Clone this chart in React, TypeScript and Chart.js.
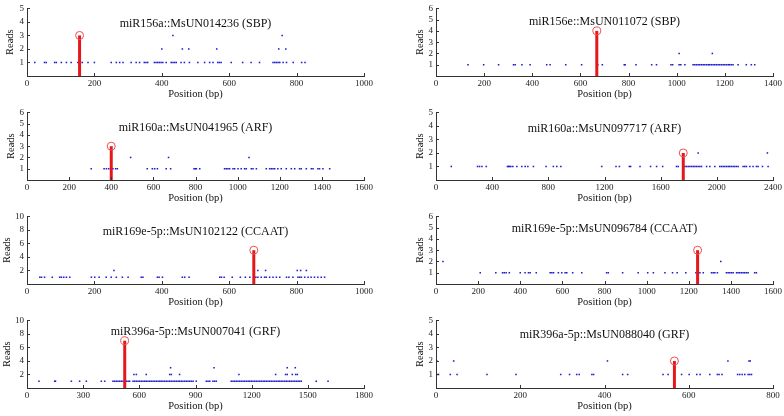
import React, { useEffect, useRef } from 'react';
import { Chart, registerables } from 'chart.js';
Chart.register(...registerables);

// ---------- Panel 1: miR156a::MsUN014236 (SBP) ----------
const p1Title = 'miR156a::MsUN014236 (SBP)';
const p1Reads1 = [23, 52, 57, 82, 87, 102, 117, 131, 151, 156, 164, 181, 200, 250, 265, 275, 285, 309, 324, 334, 348, 353, 358, 378, 383, 388, 393, 398, 403, 413, 428, 433, 438, 443, 457, 467, 482, 507, 527, 542, 552, 566, 571, 576, 606, 640, 665, 690, 730, 735, 740, 745, 750, 760, 770, 790, 815, 825];
const p1Reads2 = [400, 461, 480, 563, 747, 768];
const p1Reads3 = [433, 757];
const p1Cleave = [156, 3];
const p1XTicks = [0, 1000, 200];
const p1YTicks = [0, 5, 1];

// ---------- Panel 2: miR156e::MsUN011072 (SBP) ----------
const p2Title = 'miR156e::MsUN011072 (SBP)';
const p2Reads1 = [133, 198, 260, 322, 329, 357, 391, 460, 474, 539, 605, 672, 691, 782, 786, 831, 896, 916, 976, 983, 1010, 1017, 1034, 1068, 1075, 1082, 1089, 1096, 1103, 1110, 1117, 1124, 1131, 1137, 1144, 1151, 1158, 1165, 1172, 1179, 1186, 1193, 1200, 1207, 1214, 1220, 1227, 1234, 1255, 1289, 1310, 1324];
const p2Reads2 = [1010, 1148];
const p2Reads3: number[] = [];
const p2Cleave = [668, 4];
const p2XTicks = [0, 1400, 200];
const p2YTicks = [0, 6, 1];

// ---------- Panel 3: miR160a::MsUN041965 (ARF) ----------
const p3Title = 'miR160a::MsUN041965 (ARF)';
const p3Reads1 = [305, 366, 377, 388, 408, 421, 429, 571, 595, 606, 619, 661, 682, 793, 799, 804, 820, 938, 946, 954, 962, 978, 986, 1002, 1017, 1033, 1041, 1065, 1073, 1089, 1136, 1152, 1160, 1168, 1176, 1191, 1207, 1231, 1255, 1271, 1294, 1302, 1326, 1350, 1358, 1381, 1389, 1405, 1437];
const p3Reads2 = [492, 672, 1054];
const p3Reads3: number[] = [];
const p3Cleave = [400, 3];
const p3XTicks = [0, 1600, 200];
const p3YTicks = [0, 6, 1];

// ---------- Panel 4: miR160a::MsUN097717 (ARF) ----------
const p4Title = 'miR160a::MsUN097717 (ARF)';
const p4Reads1 = [109, 296, 310, 327, 358, 509, 517, 524, 533, 547, 576, 611, 635, 654, 694, 784, 836, 860, 889, 1180, 1282, 1306, 1377, 1386, 1453, 1528, 1571, 1614, 1713, 1725, 1773, 1784, 1796, 1808, 1820, 1832, 1844, 1855, 1867, 1879, 1891, 1927, 1950, 1986, 2021, 2033, 2045, 2057, 2069, 2081, 2092, 2104, 2116, 2128, 2140, 2152, 2187, 2199, 2211, 2235, 2258, 2282, 2294, 2325, 2365];
const p4Reads2 = [1867, 2360];
const p4Reads3: number[] = [];
const p4Cleave = [1761, 2];
const p4XTicks = [0, 2400, 400];
const p4YTicks = [0, 5, 1];

// ---------- Panel 5: miR169e-5p::MsUN102122 (CCAAT) ----------
const p5Title = 'miR169e-5p::MsUN102122 (CCAAT)';
const p5Reads1 = [38, 43, 52, 75, 97, 102, 109, 117, 127, 191, 201, 214, 235, 250, 265, 283, 300, 339, 344, 387, 392, 402, 461, 468, 481, 572, 577, 585, 609, 633, 648, 661, 679, 685, 695, 705, 710, 720, 730, 740, 750, 770, 777, 789, 804, 809, 814, 824, 834, 843, 853, 863, 873, 883];
const p5Reads2 = [258, 685, 708, 802, 812, 829];
const p5Reads3: number[] = [];
const p5Cleave = [673, 5];
const p5XTicks = [0, 1000, 200];
const p5YTicks = [0, 10, 2];

// ---------- Panel 6: miR169e-5p::MsUN096784 (CCAAT) ----------
const p6Title = 'miR169e-5p::MsUN096784 (CCAAT)';
const p6Reads1 = [210, 284, 316, 324, 333, 348, 400, 423, 439, 447, 476, 542, 550, 558, 581, 597, 613, 621, 649, 692, 810, 818, 886, 960, 1005, 1032, 1087, 1123, 1145, 1186, 1234, 1245, 1253, 1269, 1308, 1316, 1324, 1336, 1379, 1387, 1395, 1403, 1411, 1427, 1434, 1442, 1450, 1458, 1466, 1474, 1482, 1513, 1521];
const p6Reads2 = [33, 1352];
const p6Reads3: number[] = [];
const p6Cleave = [1242, 3];
const p6XTicks = [0, 1600, 200];
const p6YTicks = [0, 6, 1];

// ---------- Panel 7: miR396a-5p::MsUN007041 (GRF) ----------
const p7Title = 'miR396a-5p::MsUN007041 (GRF)';
const p7Reads1 = [64, 148, 152, 237, 281, 317, 397, 415, 459, 468, 477, 486, 495, 504, 513, 531, 540, 548, 566, 575, 584, 593, 602, 611, 620, 629, 637, 646, 655, 664, 673, 682, 691, 700, 709, 717, 726, 735, 744, 753, 762, 771, 780, 789, 798, 807, 815, 824, 833, 842, 851, 860, 869, 878, 887, 904, 958, 967, 976, 993, 1002, 1011, 1091, 1100, 1109, 1118, 1127, 1136, 1145, 1154, 1163, 1172, 1181, 1189, 1198, 1207, 1216, 1225, 1234, 1243, 1252, 1261, 1269, 1278, 1287, 1296, 1305, 1314, 1323, 1332, 1341, 1349, 1358, 1367, 1376, 1385, 1394, 1403, 1412, 1421, 1430, 1439, 1448, 1456, 1465, 1545, 1608];
const p7Reads2 = [571, 584, 637, 762, 771, 815, 1132, 1328, 1381, 1390, 1417, 1435, 1444];
const p7Reads3 = [767, 999, 1390, 1433];
const p7Cleave = [522, 7];
const p7XTicks = [0, 1800, 300];
const p7YTicks = [0, 10, 2];

// ---------- Panel 8: miR396a-5p::MsUN088040 (GRF) ----------
const p8Title = 'miR396a-5p::MsUN088040 (GRF)';
const p8Reads1 = [2, 6, 34, 50, 121, 190, 296, 317, 334, 340, 370, 374, 443, 455, 539, 551, 583, 601, 619, 627, 650, 668, 672, 679, 716, 721, 727, 733, 741, 745, 749];
const p8Reads2 = [2, 42, 407, 693, 743, 746];
const p8Reads3: number[] = [];
const p8Cleave = [566, 2];
const p8XTicks = [0, 800, 200];
const p8YTicks = [0, 5, 1];

const xLabel = 'Position (bp)';
const yLabel = 'Reads';

type PanelData = {
  title: string; r1: number[]; r2: number[]; r3: number[]; cleave: number[]; xt: number[]; yt: number[];
};
const panels: PanelData[] = [
  { title: p1Title, r1: p1Reads1, r2: p1Reads2, r3: p1Reads3, cleave: p1Cleave, xt: p1XTicks, yt: p1YTicks },
  { title: p2Title, r1: p2Reads1, r2: p2Reads2, r3: p2Reads3, cleave: p2Cleave, xt: p2XTicks, yt: p2YTicks },
  { title: p3Title, r1: p3Reads1, r2: p3Reads2, r3: p3Reads3, cleave: p3Cleave, xt: p3XTicks, yt: p3YTicks },
  { title: p4Title, r1: p4Reads1, r2: p4Reads2, r3: p4Reads3, cleave: p4Cleave, xt: p4XTicks, yt: p4YTicks },
  { title: p5Title, r1: p5Reads1, r2: p5Reads2, r3: p5Reads3, cleave: p5Cleave, xt: p5XTicks, yt: p5YTicks },
  { title: p6Title, r1: p6Reads1, r2: p6Reads2, r3: p6Reads3, cleave: p6Cleave, xt: p6XTicks, yt: p6YTicks },
  { title: p7Title, r1: p7Reads1, r2: p7Reads2, r3: p7Reads3, cleave: p7Cleave, xt: p7XTicks, yt: p7YTicks },
  { title: p8Title, r1: p8Reads1, r2: p8Reads2, r3: p8Reads3, cleave: p8Cleave, xt: p8XTicks, yt: p8YTicks },
];

// layout (per panel): title offset from plot top, Reads label centre x
const titleDy = [15, 13, 15.5, 16.5, 15, 12, 11, 14];
const readsX = [10, 28, 11, 28, 7, 28, 7, 28];

const FONT = '"Liberation Serif", "Times New Roman", serif';
const CW = 392;
const CH = 104;

const panelPlugin = {
  id: 'panelDeco',
  afterDraw(chart: any, _args: any, opts: any) {
    const { ctx, chartArea: a, scales } = chart;
    const x = scales.x, y = scales.y;
    ctx.save();
    ctx.strokeStyle = '#333';
    ctx.lineWidth = 1;
    ctx.beginPath();
    x.ticks.forEach((t: any) => {
      const px = Math.round(x.getPixelForValue(t.value)) + 0.5;
      ctx.moveTo(px, a.bottom);
      ctx.lineTo(px, a.bottom - 3);
    });
    y.ticks.forEach((t: any) => {
      const py = Math.round(y.getPixelForValue(t.value)) + 0.5;
      ctx.moveTo(a.left, py);
      ctx.lineTo(a.left + 3, py);
    });
    ctx.stroke();
    ctx.fillStyle = '#111';
    ctx.font = `12px ${FONT}`;
    ctx.textAlign = 'center';
    ctx.textBaseline = 'middle';
    ctx.fillText(opts.text, (a.left + a.right) / 2, a.top + opts.dy);
    ctx.restore();
  },
};

function Panel({ idx }: { idx: number }) {
  const ref = useRef<HTMLCanvasElement>(null);
  useEffect(() => {
    const p = panels[idx];
    const col = idx % 2;
    const row = Math.floor(idx / 2);
    const leftW = col === 0 ? 27 : 44;
    const padR = col === 0 ? 28 : 11;
    const padT = row < 2 ? 6 : 7;
    const dots = [
      ...p.r1.map((v) => ({ x: v, y: 1 })),
      ...p.r2.map((v) => ({ x: v, y: 2 })),
      ...p.r3.map((v) => ({ x: v, y: 3 })),
    ];
    const chart = new Chart(ref.current as HTMLCanvasElement, {
      type: 'scatter',
      data: {
        datasets: [
          {
            data: [
              { x: p.cleave[0], y: 0 },
              { x: p.cleave[0], y: p.cleave[1] },
            ],
            showLine: true,
            borderColor: 'rgb(228,24,28)',
            borderWidth: 3,
            pointRadius: [0, 4],
            pointStyle: 'circle',
            pointBorderColor: 'rgb(235,80,80)',
            pointBackgroundColor: 'rgba(0,0,0,0)',
            pointBorderWidth: 1,
            clip: false,
          } as any,
          {
            data: dots,
            pointStyle: 'rect',
            pointRadius: 1.1,
            backgroundColor: 'rgb(30,30,210)',
            borderWidth: 0,
            clip: false,
          } as any,
        ],
      },
      options: {
        animation: false,
        responsive: false,
        events: [],
        layout: { padding: { left: 0, right: padR, top: padT, bottom: 0 } },
        plugins: {
          legend: { display: false },
          tooltip: { enabled: false },
          panelDeco: { text: p.title, dy: titleDy[idx] },
        } as any,
        scales: {
          x: {
            type: 'linear',
            min: p.xt[0],
            max: p.xt[1],
            ticks: {
              stepSize: p.xt[2],
              padding: 2,
              autoSkip: false,
              maxRotation: 0,
              color: '#222',
              font: { family: FONT, size: 9 },
              callback: (v: any) => String(v),
            },
            grid: { display: false, drawTicks: false },
            border: { display: true, color: '#333', width: 1 },
            title: {
              display: true,
              text: xLabel,
              color: '#111',
              font: { family: FONT, size: 10.5 },
              padding: { top: 0, bottom: 3 },
            },
            afterFit: (s: any) => { s.height = CH - 76; },
          },
          y: {
            type: 'linear',
            min: p.yt[0],
            max: p.yt[1],
            ticks: {
              stepSize: p.yt[2],
              padding: 3,
              autoSkip: false,
              color: '#222',
              font: { family: FONT, size: 9 },
              callback: (v: any) => (v === 0 ? '' : String(v)),
            },
            grid: { display: false, drawTicks: false },
            border: { display: true, color: '#333', width: 1 },
            title: {
              display: true,
              text: yLabel,
              color: '#111',
              font: { family: FONT, size: 10.5 },
              padding: { top: readsX[idx] - 6.3, bottom: 0 },
            },
            afterFit: (s: any) => { s.width = leftW; },
          },
        },
      } as any,
      plugins: [panelPlugin],
    });
    return () => chart.destroy();
  }, [idx]);
  const col = idx % 2;
  const row = Math.floor(idx / 2);
  return (
    <div style={{ position: 'absolute', left: col * CW, top: row * CH, width: CW, height: CH }}>
      <canvas ref={ref} width={CW} height={CH} style={{ display: 'block' }} />
    </div>
  );
}

export default function App() {
  return (
    <div style={{ position: 'fixed', left: 0, top: 0, width: 784, height: 416, background: '#fff', overflow: 'hidden' }}>
      {panels.map((_, i) => (
        <Panel key={i} idx={i} />
      ))}
    </div>
  );
}
